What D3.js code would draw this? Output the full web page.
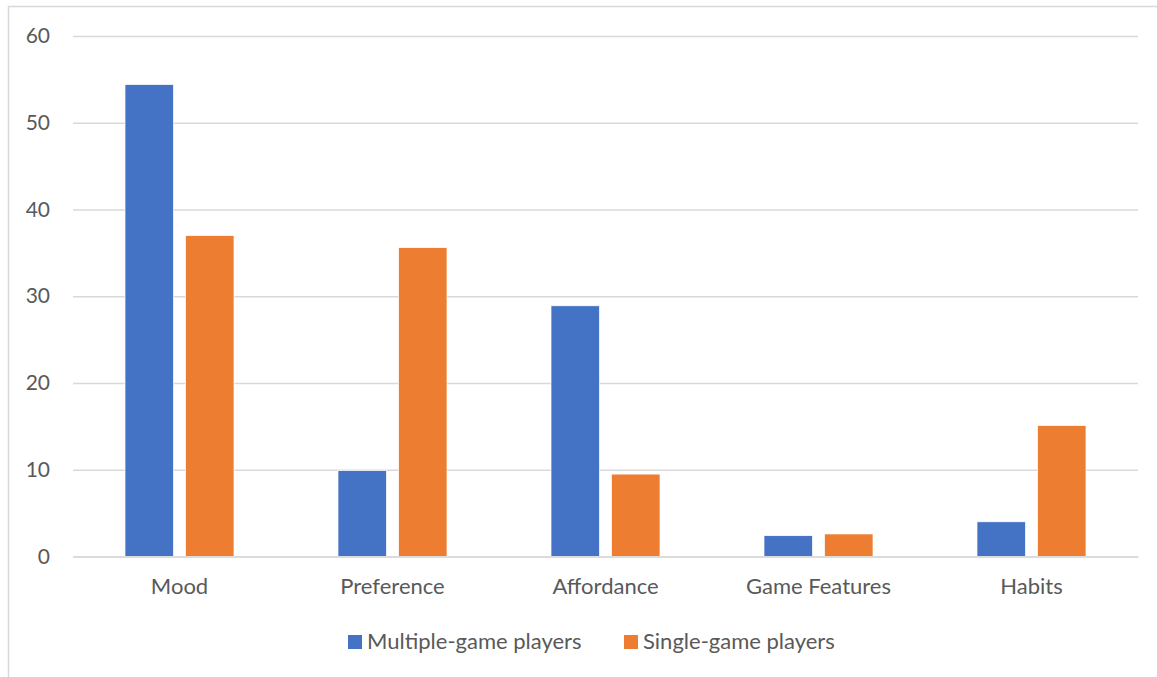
<!DOCTYPE html>
<html>
<head>
<meta charset="utf-8">
<script src="https://cdn.jsdelivr.net/npm/d3@7"></script>
<style>
  html, body { margin: 0; padding: 0; background: #fff; }
  svg { display: block; }
  text { font-family: "Lato", "Open Sans", sans-serif; fill: #595959; }
</style>
</head>
<body>
<svg id="chart" width="1157" height="677"></svg>
<script>
// Reasons for play, by player type
const categories = ["Mood", "Preference", "Affordance", "Game Features", "Habits"];
const seriesNames = ["Multiple-game players", "Single-game players"];
const multipleGame = [54.4, 9.9, 28.9, 2.4, 4.0];
const singleGame = [37.0, 35.6, 9.5, 2.6, 15.1];
const yTicks = [0, 10, 20, 30, 40, 50, 60];
const colors = ["#4472C4", "#ED7D31"];

const FONT = "Lato, Open Sans, sans-serif";
const svg = d3.select("#chart");
const W = 1157, H = 677;
const plot = { left: 73, right: 1138, top: 36, bottom: 556.5 };

// outer chart frame
svg.append("rect")
  .attr("x", 8.5).attr("y", 6.5)
  .attr("width", W + 20).attr("height", H + 20)
  .attr("fill", "none").attr("stroke", "#D9D9D9").attr("stroke-width", 1.5);

const x0 = d3.scaleBand().domain(categories)
  .range([plot.left, plot.right]).paddingInner(0).paddingOuter(0);
const groupW = 109;
const x1 = d3.scaleBand().domain(seriesNames)
  .range([0, groupW]).paddingInner(0.2).paddingOuter(0);
const y = d3.scaleLinear().domain([0, 60]).range([plot.bottom, plot.top]);

// horizontal gridlines
const yAxis = d3.axisLeft(y).tickValues(yTicks)
  .tickSize(-(plot.right - plot.left)).tickPadding(23);
const gy = svg.append("g").attr("transform", `translate(${plot.left},0)`).call(yAxis);
gy.select(".domain").remove();
gy.selectAll(".tick line").attr("stroke", "#D9D9D9").attr("stroke-width", 1.5);
gy.selectAll(".tick text").attr("font-size", 21).style("fill", "#595959")
  .attr("font-family", FONT);

// bars
const data = categories.map((c, i) => ({ cat: c, vals: [multipleGame[i], singleGame[i]] }));
const groups = svg.append("g").selectAll("g").data(data).join("g")
  .attr("transform", d => `translate(${x0(d.cat) + (x0.bandwidth() - groupW) / 2},0)`);
groups.selectAll("rect")
  .data(d => d.vals.map((v, k) => ({ name: seriesNames[k], v, k })))
  .join("rect")
  .attr("x", d => x1(d.name))
  .attr("width", x1.bandwidth())
  .attr("y", d => y(d.v))
  .attr("height", d => y(0) - y(d.v))
  .attr("fill", d => colors[d.k])
  .attr("stroke", "#fff").attr("stroke-width", 0.7);

// category axis
const xAxis = d3.axisBottom(x0).tickSize(0).tickPadding(22);
const gx = svg.append("g").attr("transform", `translate(0,${plot.bottom})`).call(xAxis);
gx.select(".domain").attr("stroke", "#D9D9D9").attr("stroke-width", 1.5);
gx.selectAll(".tick text").attr("font-size", 22).style("fill", "#595959")
  .attr("font-family", FONT);

// legend
const legendItems = [
  { name: seriesNames[0], color: colors[0], x: 348 },
  { name: seriesNames[1], color: colors[1], x: 624 }
];
const lg = svg.append("g").selectAll("g").data(legendItems).join("g")
  .attr("transform", d => `translate(${d.x},635)`);
lg.append("rect").attr("width", 14).attr("height", 14).attr("fill", d => d.color);
lg.append("text").attr("x", 19).attr("y", 14)
  .attr("font-size", 22).attr("font-family", FONT).text(d => d.name);
</script>
</body>
</html>
